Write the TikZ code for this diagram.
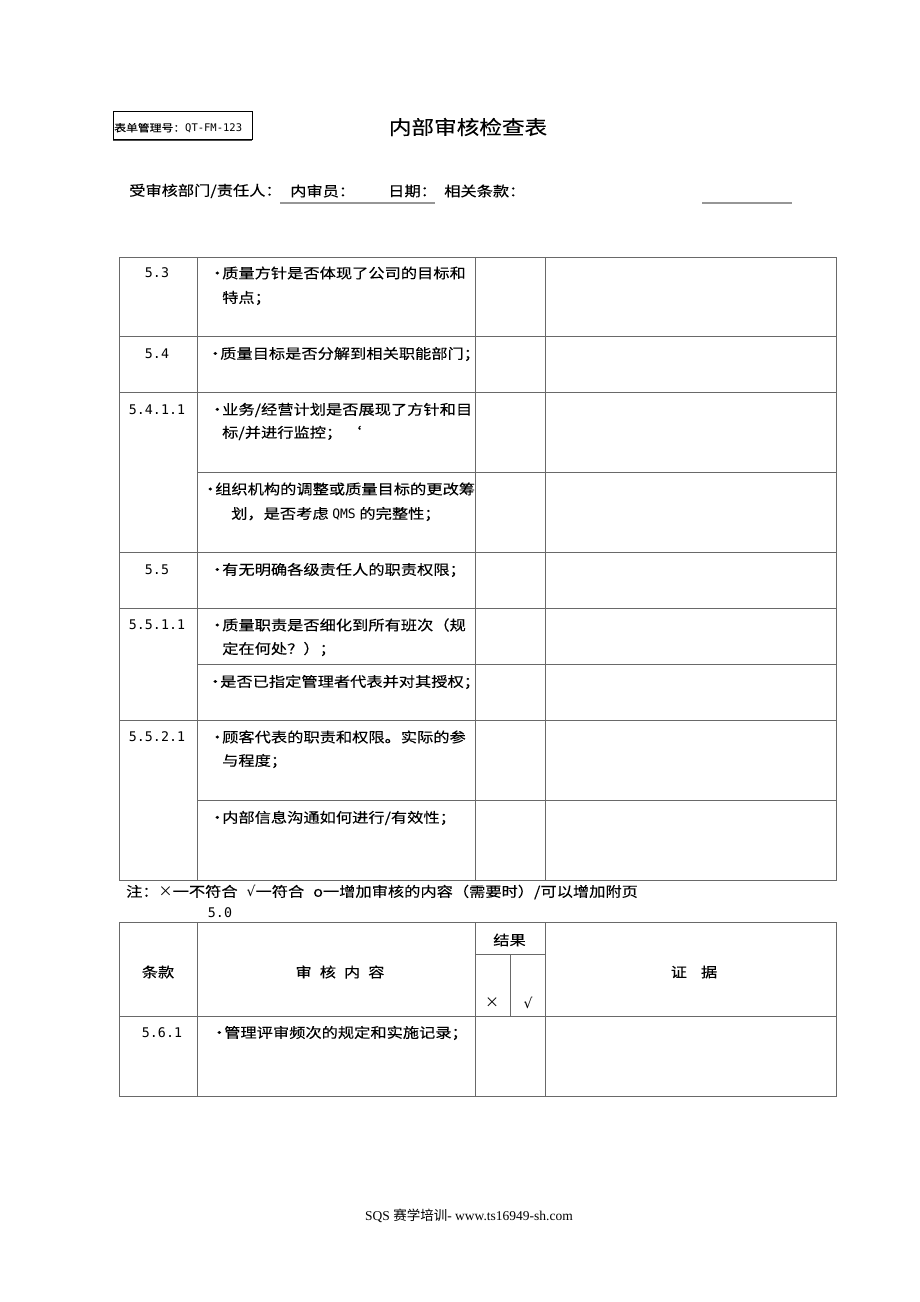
\documentclass[tikz,border=0pt]{standalone}
\usepackage{fontspec}
\setmainfont{Liberation Serif}
\newfontfamily\cjk[FakeStretch=1.16,FakeBold=0.12]{Noto Sans CJK SC}
\newfontfamily\cjkplain{Noto Sans CJK SC}
\newfontfamily\mono{DejaVu Sans Mono}
\newfontfamily\symfont{DejaVu Sans}
\definecolor{gridgray}{RGB}{105,105,105}
\definecolor{ulgray}{RGB}{150,150,150}
\newcommand\itemdot{\makebox[13pt][l]{·}}
\tikzset{
  grid/.style={draw=gridgray, line width=0.9pt},
  item/.style={anchor=west, inner sep=0pt, font=\cjk\fontsize{14}{16}\selectfont},
  label/.style={anchor=center, inner sep=0pt, font=\cjk\fontsize{14}{16}\selectfont},
  num/.style={anchor=center, inner sep=0pt, font=\mono\fontsize{13.3}{15}\selectfont},
  uline/.style={draw=ulgray, line width=1.6pt},
}
\begin{document}
\begin{tikzpicture}[x=1pt,y=-1pt]
\useasboundingbox[fill=white] (0,0) rectangle (920,1302);

% ---------- header ----------
\draw[black, line width=0.8pt] (113,111) rectangle (252,139);
\draw[black!70, line width=0.8pt] (113,140.5) -- (252,140.5);
\node[anchor=west, inner sep=0pt] (formno) at (114,128)
  {{\cjk\fontsize{10.2}{12}\selectfont 表单管理号：}{\mono\fontsize{10.5}{12}\selectfont QT-FM-123}};
\node[anchor=center, inner sep=0pt, font=\cjk\fontsize{19.5}{22}\selectfont] (title) at (468,127) {内部审核检查表};

\node[item] (dept) at (129,191) {受审核部门/责任人：};
\node[item] (auditor) at (290,191) {内审员：};
\node[item] (date) at (388,191) {日期：};
\node[item] (clause) at (444,191) {相关条款：};
\draw[uline] (280,203) -- (435,203);
\draw[uline] (702,203) -- (792,203);

% ---------- table 1 ----------
\draw[grid] (119,257) rectangle (836,880);
\foreach \x in {197,475,545} \draw[grid] (\x,257) -- (\x,880);
\foreach \y in {336,392,552,608,720} \draw[grid] (119,\y) -- (836,\y);
\foreach \y in {472,664,800} \draw[grid] (197,\y) -- (836,\y);

\node[num] (n53) at (157,273) {5.3};
\node[item] (t1a) at (209,273) {\itemdot 质量方针是否体现了公司的目标和};
\node[item] (t1b) at (222,298) {特点；};

\node[num] (n54) at (157,354) {5.4};
\node[item] (t2a) at (207,354) {\itemdot 质量目标是否分解到相关职能部门；};

\node[num] (n5411) at (157,410) {5.4.1.1};
\node[item] (t3a) at (209,410) {\itemdot 业务/经营计划是否展现了方针和目};
\node[item] (t3b) at (222,433) {标/并进行监控；\hspace{3pt}‘};

\node[item] (t4a) at (202,489) {\itemdot 组织机构的调整或质量目标的更改筹};
\node[item] (t4b) at (231,514) {划，是否考虑 {\mono\fontsize{13}{15}\selectfont QMS} 的完整性；};

\node[num] (n55) at (157,570) {5.5};
\node[item] (t5a) at (209,570) {\itemdot 有无明确各级责任人的职责权限；};

\node[num] (n5511) at (157,625) {5.5.1.1};
\node[item] (t6a) at (209,625) {\itemdot 质量职责是否细化到所有班次（规};
\node[item] (t6b) at (222,649) {定在何处？）；};
\node[item] (t7a) at (207,682) {\itemdot 是否已指定管理者代表并对其授权；};

\node[num] (n5521) at (157,737) {5.5.2.1};
\node[item] (t8a) at (209,737) {\itemdot 顾客代表的职责和权限。实际的参};
\node[item] (t8b) at (222,761) {与程度；};
\node[item] (t9a) at (209,818) {\itemdot 内部信息沟通如何进行/有效性；};

% ---------- note ----------
\node[item] (note) at (126,892) {注：{\cjkplain ×}一不符合\hspace{9pt}{\symfont √}一符合\hspace{9pt}ο一增加审核的内容（需要时）/可以增加附页};
\node[num] (n50) at (220,913) {5.0};

% ---------- table 2 ----------
\draw[grid] (119,922) rectangle (836,1096);
\foreach \x in {197,475,545} \draw[grid] (\x,922) -- (\x,1096);
\draw[grid] (119,1016) -- (836,1016);
\draw[grid] (475,954) -- (545,954);
\draw[grid] (510,954) -- (510,1016);

\node[label] (hres) at (509.5,940) {结果};
\node[label] (hclause) at (158,972) {条款};
\node[label] (hcontent) at (340,972) {审\hspace{8pt}核\hspace{8pt}内\hspace{8pt}容};
\node[label] (hevid) at (694,972) {证\hspace{14pt}据};
\node[label, font=\cjkplain\fontsize{14}{16}\selectfont] (hx) at (492,1003) {×};
\node[label, font=\symfont\fontsize{14}{16}\selectfont] (hok) at (528,1003) {√};

\node[num] (n561) at (162,1033) {5.6.1};
\node[item] (t10a) at (211,1033) {\itemdot 管理评审频次的规定和实施记录；};

% ---------- footer ----------
\node[anchor=center, inner sep=0pt, font=\fontsize{13.5}{16}\selectfont] (footer) at (469,1216)
  {SQS {\cjkplain 赛学培训}- www.ts16949-sh.com};
\end{tikzpicture}
\end{document}
